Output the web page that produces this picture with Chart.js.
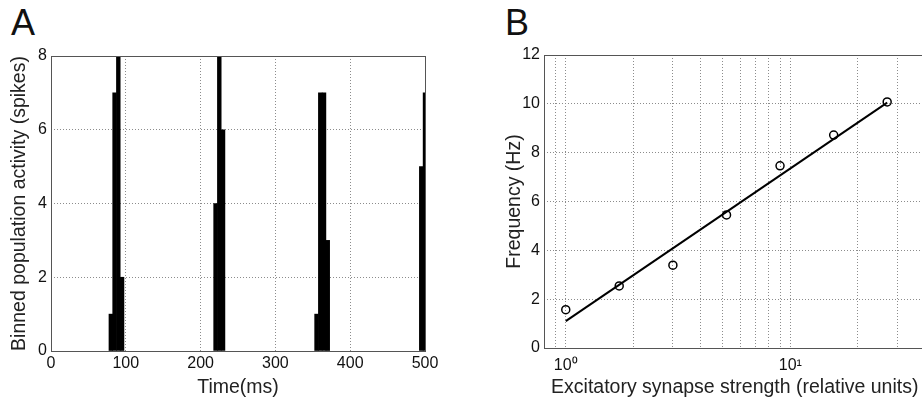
<!DOCTYPE html>
<html>
<head>
<meta charset="utf-8">
<script src="https://cdn.jsdelivr.net/npm/chart.js@4"></script>
<style>
  html, body { margin: 0; padding: 0; background: #fff; overflow: hidden; }
  body { width: 922px; height: 400px; position: relative; }
  .panel { position: absolute; top: 0; }
  .letter { position: absolute; top: 2px; font: 36px "Liberation Sans", Arial, sans-serif; color: #111; }
</style>
</head>
<body>
<div class="letter" style="left:11px">A</div>
<div class="letter" style="left:505px">B</div>
<canvas id="chartA" class="panel" style="left:0" width="460" height="400"></canvas>
<canvas id="chartB" class="panel" style="left:460px" width="480" height="400"></canvas>
<script>
// panel A: binned population activity (5 ms bins)
const binCenters = [80, 85, 90, 95, 220, 225, 230, 355, 360, 365, 370, 495, 500];
const spikeCounts = [1, 7, 8, 2, 4, 8, 6, 1, 7, 7, 3, 5, 7];

// panel B: frequency vs synapse strength
const synStrength = [1, 1.73, 3, 5.2, 9, 15.6, 27];
const frequencyHz = [1.57, 2.54, 3.39, 5.45, 7.46, 8.72, 10.08];
const fitX = [1, 27];
const fitY = [1.1, 10.05];
const logGridTicks = [0.9, 1, 2, 3, 4, 5, 6, 7, 8, 9, 10, 20, 30];

const tickFont = { family: "Liberation Sans, Arial, sans-serif", size: 16 };
const titleFont = { family: "Liberation Sans, Arial, sans-serif", size: 19.5 };
const gridStyle = { color: "#8c8c8c", drawTicks: false, lineWidth: 1 };
// v4 puts the grid line dash under border
const noBorder = { display: false, dash: [1, 2] };

// matlab style box round the plot area
const boxPlugin = {
  id: "box",
  afterDraw(chart) {
    const { ctx, chartArea: a } = chart;
    ctx.save();
    ctx.strokeStyle = "#555";
    ctx.lineWidth = 1;
    ctx.strokeRect(Math.round(a.left) + 0.5, Math.round(a.top) + 0.5,
      Math.round(a.right - a.left), Math.round(a.bottom - a.top));
    ctx.restore();
  },
};

new Chart(document.getElementById("chartA"), {
  type: "bar",
  data: {
    datasets: [{
      data: binCenters.map((t, i) => ({ x: t, y: spikeCounts[i] })),
      backgroundColor: "#000",
      borderWidth: 0,
      barPercentage: 1,
      categoryPercentage: 1,
    }],
  },
  options: {
    responsive: false,
    animation: false,
    layout: { padding: { top: 56, right: 35, left: 0, bottom: 0 } },
    plugins: { legend: { display: false }, tooltip: { enabled: false } },
    scales: {
      x: {
        type: "linear", min: 0, max: 500, offset: false,
        grid: { ...gridStyle, offset: false },
        border: noBorder,
        ticks: { stepSize: 100, font: tickFont, color: "#111", padding: 3, maxRotation: 0 },
        title: { display: true, text: "Time(ms)", font: titleFont, color: "#222", padding: { bottom: 1 } },
        afterFit(s) { s.height = 49; },
      },
      y: {
        min: 0, max: 8,
        grid: gridStyle,
        border: noBorder,
        ticks: { stepSize: 2, font: tickFont, color: "#111", padding: 4 },
        title: { display: true, text: "Binned population activity (spikes)", font: titleFont, color: "#222", padding: { top: 8 } },
        afterFit(s) { s.width = 51; },
      },
    },
  },
  plugins: [boxPlugin],
});

new Chart(document.getElementById("chartB"), {
  type: "scatter",
  data: {
    datasets: [
      {
        data: fitX.map((x, i) => ({ x, y: fitY[i] })),
        showLine: true,
        borderColor: "#000",
        borderWidth: 2,
        pointRadius: 0,
      },
      {
        data: synStrength.map((x, i) => ({ x, y: frequencyHz[i] })),
        pointStyle: "circle",
        pointRadius: 4,
        pointBorderWidth: 1.5,
        pointBorderColor: "#000",
        pointBackgroundColor: "rgba(0,0,0,0)",
      },
    ],
  },
  options: {
    responsive: false,
    animation: false,
    layout: { padding: { top: 55, right: 14.5, left: 0, bottom: 0 } },
    plugins: { legend: { display: false }, tooltip: { enabled: false } },
    scales: {
      x: {
        type: "logarithmic", min: 0.8, max: 40,
        grid: gridStyle,
        border: noBorder,
        afterBuildTicks(s) { s.ticks = logGridTicks.map((v) => ({ value: v })); },
        ticks: {
          font: tickFont, color: "#111", padding: 8, maxRotation: 0, autoSkip: false,
          callback: (v) => (v === 1 ? "10\u2070" : v === 10 ? "10\u00b9" : ""),
        },
        title: { display: true, text: "Excitatory synapse strength (relative units)", font: titleFont, color: "#222", padding: { bottom: 1 } },
        afterFit(s) { s.height = 52; },
      },
      y: {
        min: 0, max: 12,
        grid: gridStyle,
        border: noBorder,
        ticks: { stepSize: 2, font: tickFont, color: "#111", padding: 4 },
        title: { display: true, text: "Frequency (Hz)", font: titleFont, color: "#222", padding: { top: 43 } },
        afterFit(s) { s.width = 84; },
      },
    },
  },
  plugins: [boxPlugin],
});
</script>
</body>
</html>
